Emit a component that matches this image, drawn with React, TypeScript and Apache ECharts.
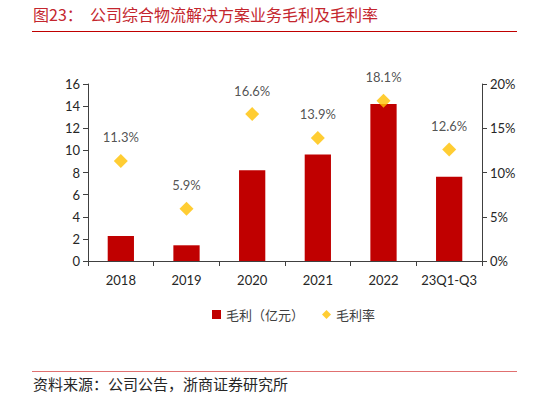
import React, { useEffect, useRef } from "react";
import * as echarts from "echarts";

const categories = ["2018", "2019", "2020", "2021", "2022", "23Q1-Q3"];
const grossProfit = [2.26, 1.42, 8.21, 9.63, 14.19, 7.61];
const grossMargin = [11.3, 5.9, 16.6, 13.9, 18.1, 12.6];

const titleText = "图23：  公司综合物流解决方案业务毛利及毛利率";
const sourceText = "资料来源：公司公告，浙商证券研究所";

export default function App() {
  const ref = useRef<HTMLDivElement>(null);
  useEffect(() => {
    document.body.style.margin = "0";
    if (!ref.current) return;
    const chart = echarts.init(ref.current, undefined, { renderer: "svg" });
    const axisColor = "#404040";
    const numFont = "Lato, 'Liberation Sans', sans-serif";
    const cjkFont = "'Noto Sans CJK SC', sans-serif";
    chart.setOption({
      animation: false,
      backgroundColor: "#ffffff",
      grid: { left: 88, right: 66, top: 84, bottom: 141, containLabel: false },
      graphic: [
        {
          type: "text",
          left: 33,
          top: 6,
          style: { text: titleText, fill: "#C4262E", font: `16px ${cjkFont}` },
        },
        {
          type: "line",
          shape: { x1: 32, y1: 31.5, x2: 517, y2: 31.5 },
          style: { stroke: "#C00000", lineWidth: 1 },
        },
        {
          type: "line",
          shape: { x1: 32, y1: 371.5, x2: 517, y2: 371.5 },
          style: { stroke: "#E07070", lineWidth: 1 },
        },
        {
          type: "text",
          left: 33,
          top: 376,
          style: { text: sourceText, fill: "#262626", font: `15px ${cjkFont}` },
        },
      ],
      legend: {
        left: 207,
        top: 303,
        itemWidth: 9,
        itemHeight: 9,
        itemGap: 18,
        textStyle: { fontFamily: cjkFont, fontSize: 13, color: "#404040" },
        data: [
          { name: "毛利（亿元）", icon: "rect" },
          { name: "毛利率", icon: "diamond" },
        ],
      },
      xAxis: {
        type: "category",
        data: categories,
        axisLine: { lineStyle: { color: axisColor } },
        axisTick: { show: true, length: 5, lineStyle: { color: axisColor } },
        axisLabel: {
          interval: 0,
          color: "#262626",
          fontFamily: numFont,
          fontSize: 13,
          margin: 12,
        },
      },
      yAxis: [
        {
          type: "value",
          min: 0,
          max: 16,
          interval: 2,
          splitLine: { show: false },
          axisLine: { show: true, lineStyle: { color: axisColor } },
          axisTick: { show: true, length: 5, lineStyle: { color: axisColor } },
          axisLabel: { color: "#262626", fontFamily: numFont, fontSize: 13, margin: 8 },
        },
        {
          type: "value",
          min: 0,
          max: 20,
          interval: 5,
          position: "right",
          splitLine: { show: false },
          axisLine: { show: true, lineStyle: { color: axisColor } },
          axisTick: { show: true, length: 5, lineStyle: { color: axisColor } },
          axisLabel: {
            color: "#262626",
            fontFamily: numFont,
            fontSize: 13,
            margin: 8,
            formatter: "{value}%",
          },
        },
      ],
      series: [
        {
          name: "毛利（亿元）",
          type: "bar",
          data: grossProfit,
          barWidth: "40%",
          itemStyle: { color: "#C00000" },
        },
        {
          name: "毛利率",
          type: "scatter",
          yAxisIndex: 1,
          data: grossMargin,
          symbol: "diamond",
          symbolSize: 14,
          itemStyle: { color: "#FFC000" },
          label: {
            show: true,
            position: "top",
            distance: 10,
            formatter: "{c}%",
            color: "#262626",
            fontFamily: numFont,
            fontSize: 13,
          },
        },
      ],
    });
    return () => chart.dispose();
  }, []);
  return <div ref={ref} style={{ width: 548, height: 402 }} />;
}
